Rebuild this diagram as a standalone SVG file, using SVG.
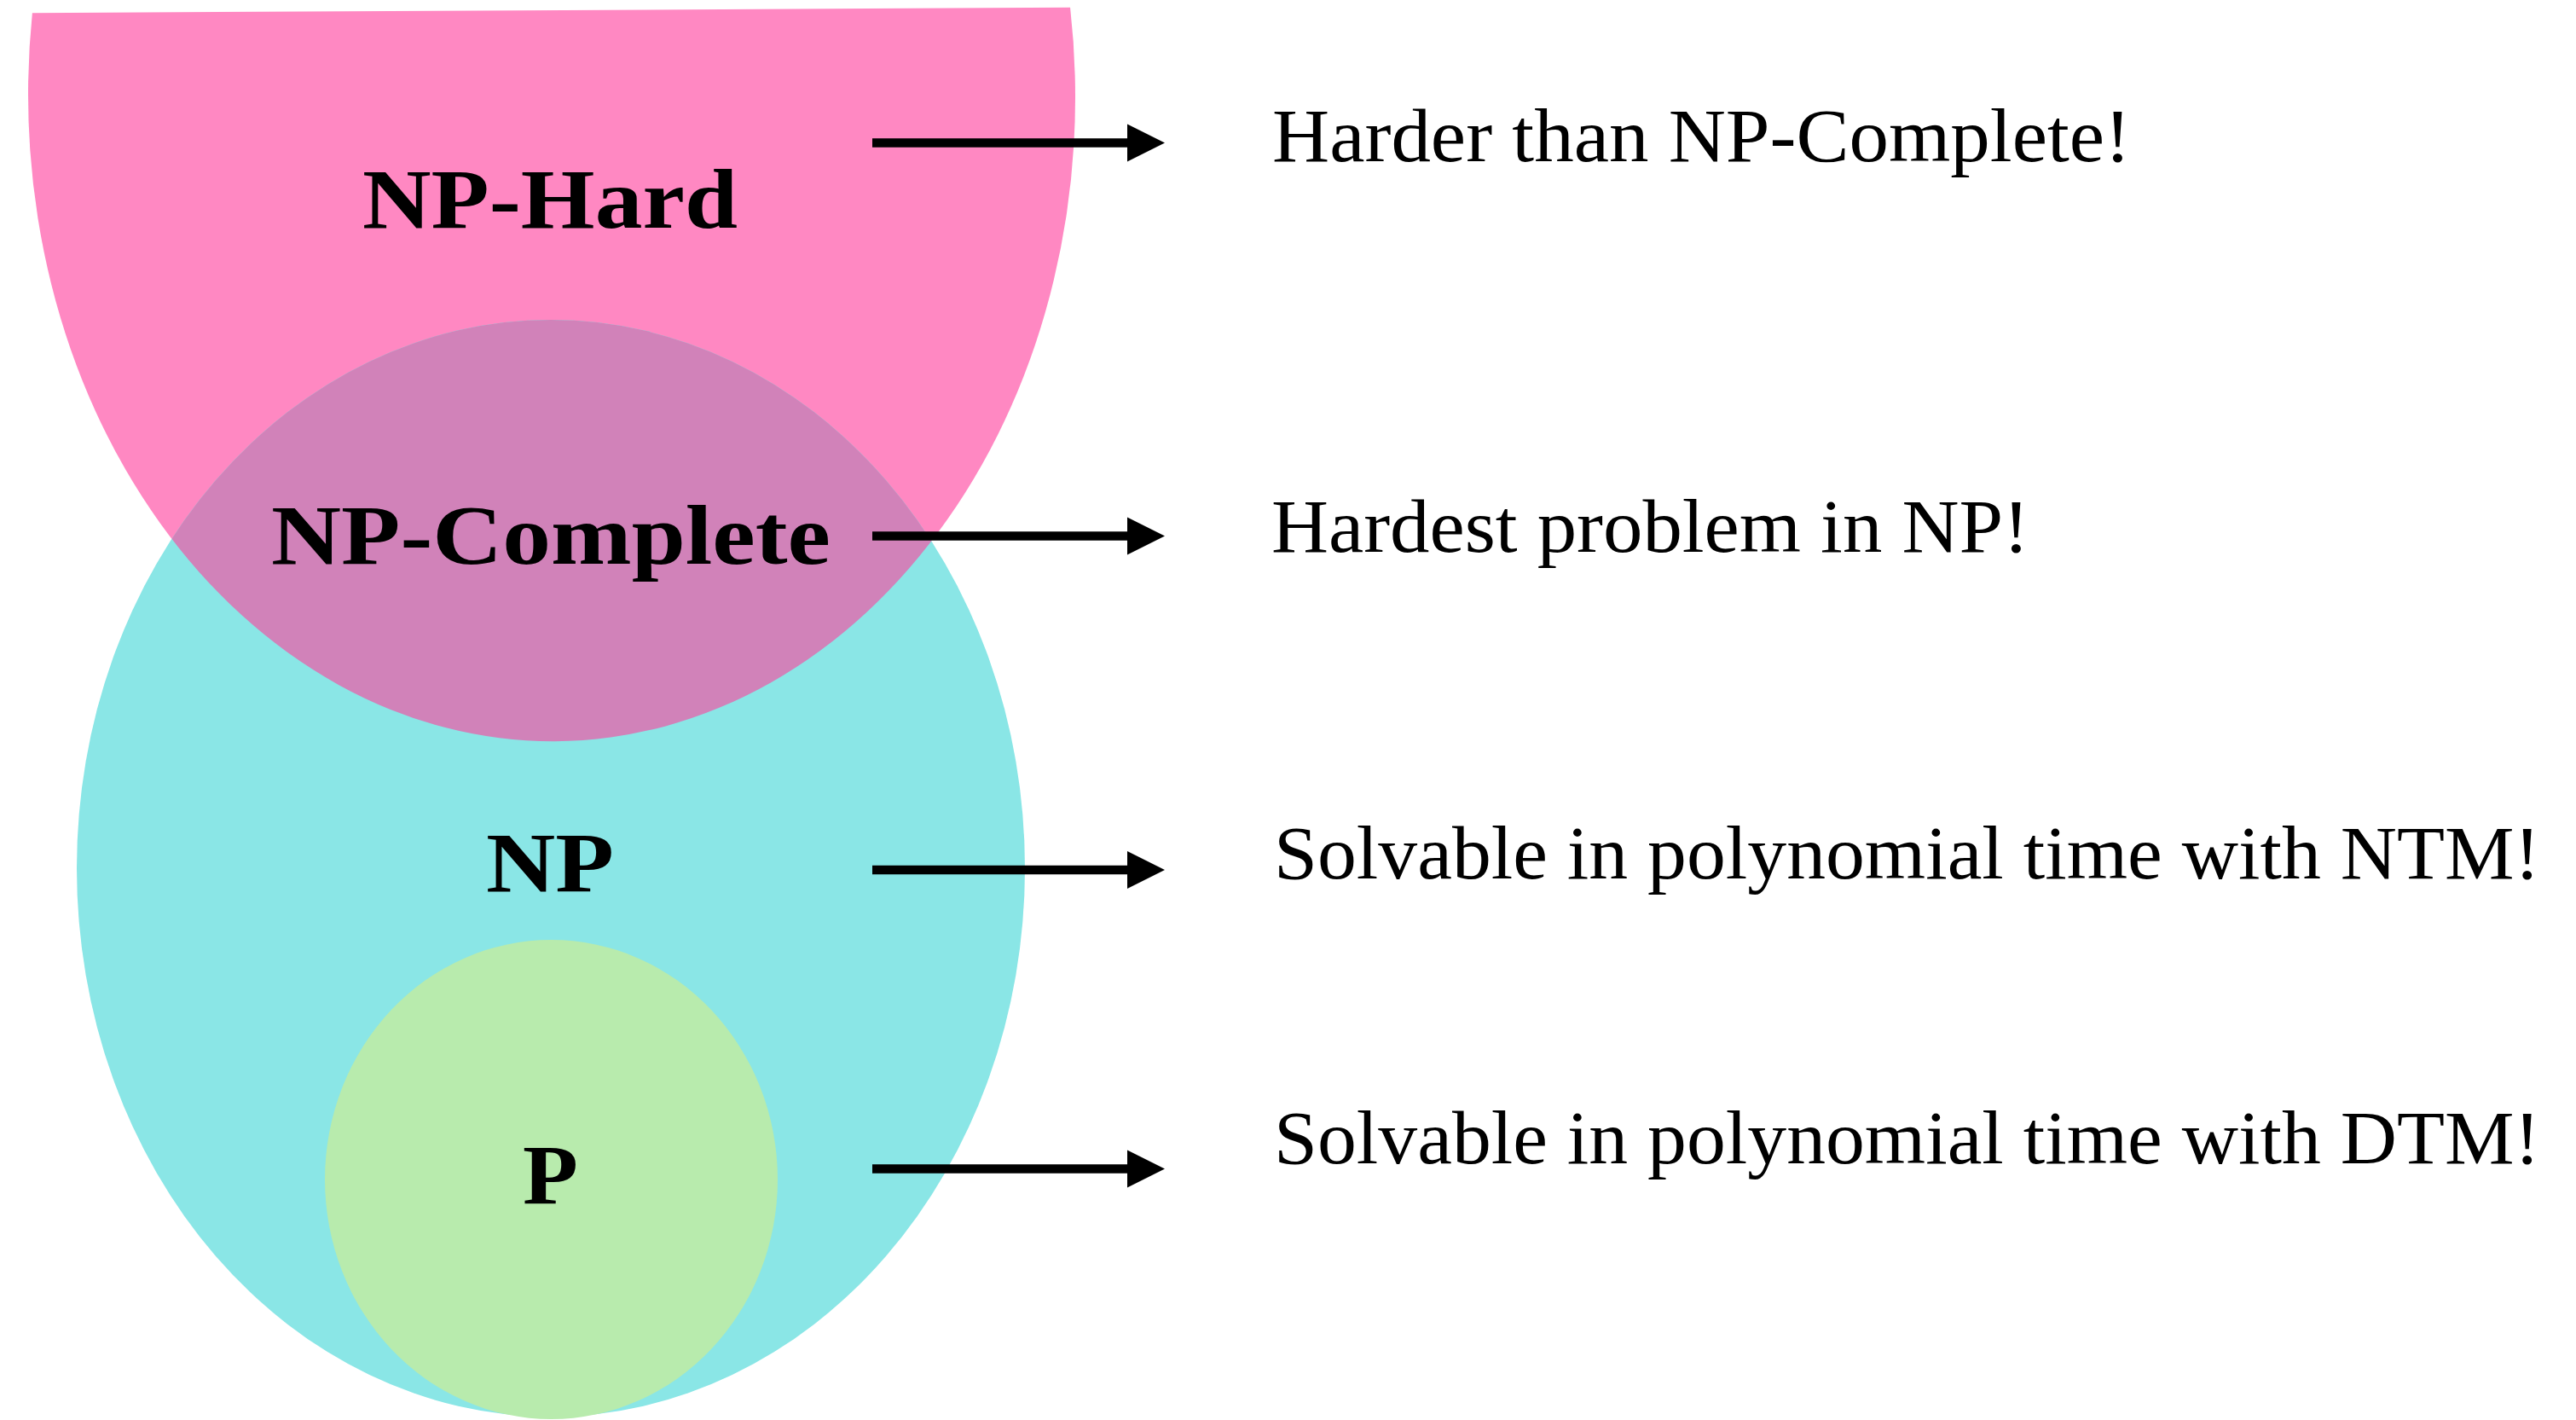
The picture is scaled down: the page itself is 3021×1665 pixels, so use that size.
<svg xmlns="http://www.w3.org/2000/svg" width="3021" height="1665" viewBox="0 0 3021 1665">
<style>
.lbl{font-family:"Liberation Serif","DejaVu Serif",serif;font-weight:bold;font-size:100px;fill:#000}
.desc{font-family:"Liberation Serif","DejaVu Serif",serif;font-size:88px;fill:#000}
.conn{stroke:#000;stroke-width:10.5;fill:none}
</style>
<defs>
<path id="hardShape" d="M -608.6,-100 L 608.6,-100 A 614 757 0 1 1 -608.6,-100 Z"/>
<clipPath id="hardClip"><use href="#hardShape" transform="translate(647,112) rotate(-0.3)"/></clipPath>
<marker id="arrow" markerUnits="userSpaceOnUse" markerWidth="46" markerHeight="46" refX="0" refY="23" orient="auto" viewBox="0 0 46 46">
<path d="M0,1 L44,23 L0,45 Z" fill="#000"/>
</marker>
</defs>
<rect width="3021" height="1665" fill="#fff"/>
<g id="np-hard">
<use href="#hardShape" transform="translate(647,112) rotate(-0.3)" fill="#FF88C2"/>
<text class="lbl" x="425" y="267" textLength="440" lengthAdjust="spacingAndGlyphs">NP-Hard</text>
</g>
<g id="np">
<ellipse cx="646" cy="1018" rx="556" ry="643" fill="#8AE6E6"/>
<text class="lbl" x="570" y="1045" textLength="150" lengthAdjust="spacingAndGlyphs">NP</text>
</g>
<g id="np-complete">
<ellipse cx="646" cy="1018" rx="556" ry="643" fill="#D182B9" clip-path="url(#hardClip)"/>
<text class="lbl" x="318" y="661" textLength="656" lengthAdjust="spacingAndGlyphs">NP-Complete</text>
</g>
<g id="p">
<ellipse cx="646.5" cy="1383" rx="265.5" ry="281" fill="#B8EBAD"/>
<text class="lbl" x="613" y="1411" textLength="65" lengthAdjust="spacingAndGlyphs">P</text>
</g>
<g id="connectors">
<line class="conn" x1="1023" y1="167.5" x2="1322" y2="167.5" marker-end="url(#arrow)"/>
<line class="conn" x1="1023" y1="628.5" x2="1322" y2="628.5" marker-end="url(#arrow)"/>
<line class="conn" x1="1023" y1="1020" x2="1322" y2="1020" marker-end="url(#arrow)"/>
<line class="conn" x1="1023" y1="1370.5" x2="1322" y2="1370.5" marker-end="url(#arrow)"/>
</g>
<g id="descriptions">
<text class="desc" x="1492" y="189" textLength="1007" lengthAdjust="spacingAndGlyphs">Harder than NP-Complete!</text>
<text class="desc" x="1491" y="647" textLength="889" lengthAdjust="spacingAndGlyphs">Hardest problem in NP!</text>
<text class="desc" x="1494" y="1030" textLength="1485" lengthAdjust="spacingAndGlyphs">Solvable in polynomial time with NTM!</text>
<text class="desc" x="1494" y="1364" textLength="1485" lengthAdjust="spacingAndGlyphs">Solvable in polynomial time with DTM!</text>
</g>
</svg>
